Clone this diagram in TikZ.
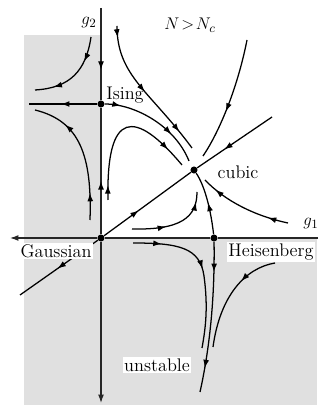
\documentclass[tikz,border=0pt]{standalone}
\usepackage{tikz}
\usetikzlibrary{arrows.meta, decorations.markings}

\tikzset{
  fp/.style={circle, fill=black, inner sep=0pt, minimum size=5pt},
  axis/.style={line width=0.8pt, black!85},
  stream/.style={line width=0.9pt},
  flow/.style={postaction={decorate, decoration={markings,
      mark=at position #1 with {\arrow[black]{Latex[length=6pt, width=4.2pt]}}}}},
  lbl/.style={font=\fontsize{13}{15}\selectfont, inner sep=1pt},
  shaded/.style={fill=black!12},
}

\begin{document}
\begin{tikzpicture}[x=0.025cm, y=0.025cm]
			\useasboundingbox (0,0) rectangle (322,406);
			% shaded regions:
			\fill[shaded] (24,1) rectangle (101,371);
			\fill[shaded] (101,1) rectangle (317,168);
			% fixed points and free ends:
			\node[fp] (gauss) at (101,168) {};
			\node[fp] (ising) at (101,302) {};
			\node[fp] (heis) at (214,168) {};
			\node[fp] (cubic) at (194,236) {};
			\coordinate (g1end) at (10,168);
			\coordinate (g1far) at (318,168);
			\coordinate (g2top) at (101,398);
			\coordinate (g2bot) at (101,3);
			\coordinate (isleft) at (29,302);
			\coordinate (diaglo) at (20,111);
			\coordinate (diaghi) at (272,289);
			% axes:
			\draw[axis] (g1far) -- (heis);
			\draw[axis] (heis) -- (gauss);
			\draw[axis, -{Latex[length=6pt, width=4.2pt]}] (gauss) -- (g1end);
			\draw[axis, flow=0.67] (g2top) -- (ising);
			\draw[axis, flow=0.42] (gauss) -- (ising);
			\draw[axis, -{Latex[length=6pt, width=4.2pt]}] (gauss) -- (g2bot);
			% separatrices:
			\draw[stream, flow=0.53] (ising) -- (isleft);
			\draw[stream, flow=0.4] (gauss) -- (cubic);
			\draw[stream, flow=0.64] (diaghi) -- (cubic);
			\draw[stream, flow=0.52] (gauss) -- (diaglo);
			\draw[stream, flow=0.15, flow=0.7] (ising) .. controls (135,302) and (175,280) .. (189,245);
			\draw[stream, flow=0.5] (heis) .. controls (211,195) and (205,220) .. (cubic);
			\draw[stream, flow=0.2, flow=0.84] (heis) .. controls (215,100) and (208,50) .. (200,14);
			% flow lines:
			\draw[stream, flow=0.3, flow=0.78] (91,369) .. controls (86,335) and (70,318) .. (35,316);
			\draw[stream, flow=0.2, flow=0.75] (90,186) .. controls (92,250) and (80,285) .. (35,296);
			\draw[stream, flow=0.1, flow=0.86] (108,206) .. controls (106,297) and (135,297) .. (182,241);
			\draw[stream, flow=0.08, flow=0.5, flow=0.86] (117,380) .. controls (117,330) and (150,315) .. (192,258);
			\draw[stream, flow=0.6] (247,366) .. controls (238,320) and (220,275) .. (203,250);
			\draw[stream, flow=0.22, flow=0.85] (288,183) .. controls (255,190) and (225,205) .. (205,226);
			\draw[stream, flow=0.4, flow=0.88] (132,177) .. controls (180,176) and (197,188) .. (197,214);
			\draw[stream, flow=0.18, flow=0.5] (133,163) .. controls (180,163) and (200,158) .. (204,130) .. controls (208,100) and (206,80) .. (202,58);
			\draw[stream, flow=0.35] (275,143) .. controls (245,138) and (220,110) .. (213,59);
			% labels:
			\node[lbl] (g2lbl) at (89,383) {$g_2$};
			\node[lbl] (g1lbl) at (311,182) {$g_1$};
			\node[lbl] (nlbl) at (190,381) {$N\!>\!N_c$};
			\node[lbl] (isinglbl) at (125,311) {Ising};
			\node[lbl] (cubiclbl) at (238,234) {cubic};
			\node[lbl, fill=white] (gausslbl) at (56,155) {Gaussian};
			\node[lbl, fill=white] (heislbl) at (271,154) {Heisenberg};
			\node[lbl, fill=white] (unstlbl) at (157,41) {unstable};
\end{tikzpicture}
\end{document}
